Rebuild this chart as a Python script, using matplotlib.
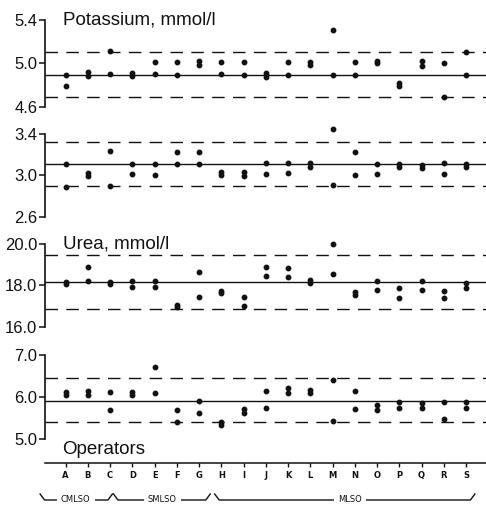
import matplotlib
matplotlib.use('Agg')
import matplotlib.pyplot as plt
import numpy as np

plt.rcParams['font.family'] = ['Liberation Sans', 'DejaVu Sans']

operators = list("ABCDEFGHIJKLMNOPQRS")
groups = ["CMLSO", "SMLSO", "MLSO"]
group_sizes = [3, 4, 12]

# Panel 1: Potassium, mmol/l (two replicates per operator)
potassium_a = [4.89, 4.92, 5.11, 4.91, 5.01, 5.01, 5.02, 5.01, 5.01, 4.91,
               5.01, 5.01, 5.31, 5.01, 5.02, 4.82, 5.02, 5.00, 5.10]
potassium_b = [4.79, 4.88, 4.90, 4.88, 4.90, 4.89, 4.98, 4.90, 4.89, 4.87,
               4.89, 4.98, 4.89, 4.89, 5.00, 4.79, 4.97, 4.69, 4.89]
potassium_ref = [4.89, 5.10, 4.69]   # mean, upper, lower
potassium_ticks = [4.6, 5.0, 5.4]

# Panel 2 (unlabelled analyte)
second_a = [3.11, 3.02, 3.23, 3.11, 3.11, 3.22, 3.22, 3.03, 3.03, 3.12,
            3.12, 3.12, 3.44, 3.22, 3.11, 3.11, 3.10, 3.12, 3.11]
second_b = [2.89, 2.99, 2.90, 3.01, 3.00, 3.11, 3.11, 3.00, 2.99, 3.01,
            3.02, 3.08, 2.91, 3.00, 3.01, 3.08, 3.07, 3.01, 3.08]
second_ref = [3.11, 3.32, 2.90]
second_ticks = [2.6, 3.0, 3.4]

# Panel 3: Urea, mmol/l
urea_a = [18.18, 18.90, 18.18, 18.23, 18.23, 17.05, 18.66, 17.73, 17.42, 18.87,
          18.86, 18.26, 20.00, 17.70, 18.21, 17.86, 18.23, 17.75, 18.10]
urea_b = [18.07, 18.23, 18.07, 17.91, 17.91, 16.97, 17.43, 17.62, 16.98, 18.47,
          18.42, 18.10, 18.55, 17.52, 17.78, 17.41, 17.78, 17.41, 17.86]
urea_ref = [18.15, 19.45, 16.85]
urea_ticks = [16.0, 18.0, 20.0]

# Panel 4 (unlabelled analyte)
fourth_a = [6.13, 6.14, 6.13, 6.13, 6.72, 5.69, 5.91, 5.40, 5.72, 6.14,
            6.21, 6.17, 6.40, 6.14, 5.81, 5.89, 5.86, 5.89, 5.89]
fourth_b = [6.05, 6.05, 5.69, 6.05, 6.09, 5.41, 5.61, 5.33, 5.63, 5.73,
            6.10, 6.09, 5.43, 5.71, 5.69, 5.73, 5.75, 5.48, 5.73]
fourth_ref = [5.91, 6.45, 5.41]
fourth_ticks = [5.0, 6.0, 7.0]

W, H = 486, 508
fig = plt.figure(figsize=(W / 100, H / 100), dpi=100)

def fx(px):
    return px / W

def fy(py):
    return 1 - py / H

X0, X1 = 45, 486
XLIM = (-0.93, 18.9)
ink = '#111111'

panels = [
    (potassium_a, potassium_b, potassium_ref, potassium_ticks, 20, 106.5, "Potassium, mmol/l"),
    (second_a, second_b, second_ref, second_ticks, 133.5, 217, None),
    (urea_a, urea_b, urea_ref, urea_ticks, 244, 326.7, "Urea, mmol/l"),
    (fourth_a, fourth_b, fourth_ref, fourth_ticks, 355, 439, None),
]

xs = np.arange(len(operators))
for a, b, ref, ticks, ytop, ybot, title in panels:
    ax = fig.add_axes([fx(X0), fy(ybot), fx(X1 - X0), (ybot - ytop) / H])
    ax.set_xlim(*XLIM)
    ax.set_ylim(ticks[0], ticks[-1])
    for s in ['top', 'right', 'bottom']:
        ax.spines[s].set_visible(False)
    ax.spines['left'].set_linewidth(1.2)
    ax.spines['left'].set_color(ink)
    ax.set_xticks([])
    ax.set_yticks(ticks)
    ax.set_yticklabels(["{:.1f}".format(t) for t in ticks])
    ax.tick_params(axis='y', direction='out', length=4, width=1.1, pad=1.5,
                   labelsize=12, colors=ink)
    ax.axhline(ref[0], color=ink, lw=1.0)
    ax.axhline(ref[1], color=ink, lw=1.0, dashes=(9, 6))
    ax.axhline(ref[2], color=ink, lw=1.0, dashes=(9, 6))
    ax.plot(xs, a, 'o', ms=3.2, color=ink, mec=ink, clip_on=False, zorder=5)
    ax.plot(xs, b, 'o', ms=3.2, color=ink, mec=ink, clip_on=False, zorder=5)
    if title:
        fig.text(fx(63), fy(ytop), title, fontsize=13.5, ha='left', va='center', color=ink)

fig.text(fx(62), fy(450), "Operators", fontsize=13.5, ha='left', va='center', color=ink)

# operator axis
axo = fig.add_axes([fx(X0), fy(463), fx(X1 - X0), 1e-4])
axo.set_xlim(*XLIM)
for s in ['top', 'right', 'left']:
    axo.spines[s].set_visible(False)
axo.spines['bottom'].set_linewidth(1.1)
axo.spines['bottom'].set_color(ink)
axo.set_yticks([])
axo.set_xticks(xs)
axo.set_xticklabels(operators, fontsize=6, fontweight='bold',
                    family=['Liberation Sans Narrow', 'DejaVu Sans'])
axo.tick_params(axis='x', direction='out', length=3, width=1, pad=3, colors=ink)

# group brackets
axg = fig.add_axes([fx(X0), 0, fx(X1 - X0), fy(480)])
axg.set_xlim(*XLIM)
axg.set_ylim(508, 480)
axg.axis('off')
bracket_edges = [(-1.15, 2.1), (2.15, 6.5), (6.7, 18.4)]
label_pos = [0.45, 4.35, 12.8]
for g, (b0, b1), lp in zip(groups, bracket_edges, label_pos):
    axg.plot([b0, b0 + 0.2, b1 - 0.2, b1], [494, 500, 500, 494], color=ink,
             lw=1.0, clip_on=False)
    axg.text(lp, 500, g, fontsize=6, ha='center', va='center',
             family=['Liberation Sans Narrow', 'DejaVu Sans'], color=ink,
             bbox=dict(facecolor='white', edgecolor='none', pad=3))

fig.savefig('out.png', dpi=100, facecolor='white')
